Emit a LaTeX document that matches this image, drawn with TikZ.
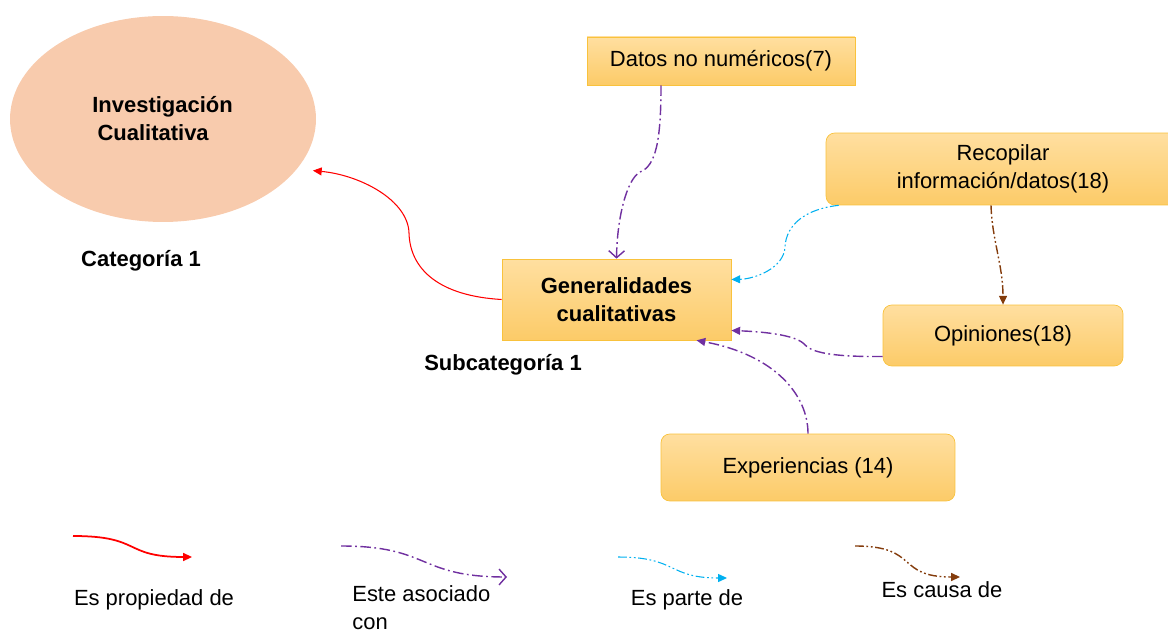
\documentclass[tikz,border=0pt]{standalone}
\usepackage{fontspec}
\setmainfont{Liberation Sans}
\usetikzlibrary{shapes.geometric,arrows.meta,calc}
\definecolor{cajaarriba}{HTML}{FFDFA0}
\definecolor{cajaabajo}{HTML}{FCCB68}
\definecolor{cajaborde}{HTML}{F9C23C}
\definecolor{elipse}{HTML}{F8CBAD}
\definecolor{propiedad}{HTML}{FF0000}
\definecolor{asociado}{HTML}{7030A0}
\definecolor{parte}{HTML}{00B0F0}
\definecolor{causa}{HTML}{843C0C}
\begin{document}
\begin{tikzpicture}[x=0.02cm,y=0.02cm]
			\tikzstyle{every node}+=[inner sep=0pt,font=\fontsize{12.5}{16}\selectfont]
			\tikzstyle{caja}=[draw=cajaborde,top color=cajaarriba,bottom color=cajaabajo,align=center]
			\tikzstyle{cajared}=[caja,rounded corners=5pt]
			\tikzstyle{negrita}=[font=\fontsize{12.5}{16}\selectfont\bfseries]
			\tikzstyle{punta}=[-{Triangle[length=5pt,width=4.5pt]}]
			\tikzstyle{espropiedad}=[draw=propiedad,line width=0.6pt,punta]
			\tikzstyle{esasociado}=[draw=asociado,line width=0.8pt,dash pattern=on 6pt off 2pt on 1pt off 2pt,punta]
			\tikzstyle{abierta}=[-{Straight Barb[length=4pt,width=9pt]}]
			\tikzstyle{esparte}=[draw=parte,line width=0.6pt,dash pattern=on 5pt off 1.5pt on 1pt off 1.5pt on 1pt off 1.5pt,punta]
			\tikzstyle{escausa}=[draw=causa,line width=0.8pt,dash pattern=on 5pt off 1.5pt on 1pt off 1.5pt on 1pt off 1.5pt,punta]
			\useasboundingbox (0,0) rectangle (1168,-634);
			\node [ellipse,fill=elipse,minimum width=6.12cm,minimum height=4.12cm,outer sep=8pt] (inv) at (163,-119) {};
			\node [negrita,align=left,anchor=west] (invtxt) at (92,-119) {Investigación\\\hspace*{3pt}Cualitativa};
			\node [negrita] (cat) at (141,-261) {Categoría 1};
			\node [caja,negrita,minimum width=4.58cm,minimum height=1.62cm] (gen) at (616.5,-299.5) {Generalidades\\cualitativas};
			\node [negrita] (subcat) at (503,-365) {Subcategoría 1};
			\node [caja,minimum width=5.36cm,minimum height=0.96cm] (datos) at (721,-61) {Datos no numéricos(7)};
			\node [cajared,minimum width=7.08cm,minimum height=1.44cm] (rec) at (1003,-169) {Recopilar\\información/datos(18)};
			\node [cajared,minimum width=4.8cm,minimum height=1.22cm] (opi) at (1003,-335.5) {Opiniones(18)};
			\node [cajared,minimum width=5.88cm,minimum height=1.34cm] (exp) at (808,-467.5) {Experiencias (14)};
			\draw [espropiedad] (gen.west) .. controls (440,-296) and (410,-270) .. (409,-233) .. controls (408,-200) and (360,-175) .. (inv.-19);
			\draw [esasociado,abierta] ($(datos.south)+(-60,0)$) .. controls (661,-140) and (656,-166) .. (640,-172) .. controls (626,-180) and (617,-220) .. (gen.north);
			\draw [esparte] ($(rec.south west)+(13,0)$) .. controls (805,-209) and (786,-225) .. (785,-247) .. controls (784,-268) and (755,-279) .. ($(gen.east)+(0,20)$);
			\draw [escausa] ($(rec.south)+(-12,0)$) .. controls (992,-240) and (1003,-265) .. (opi.north);
			\draw [esasociado] ($(opi.west)+(0,-21)$) .. controls (830,-357) and (812,-352) .. (805,-345) .. controls (798,-336) and (770,-332) .. ($(gen.east)+(0,-31)$);
			\draw [esasociado] (exp.north) .. controls (808,-395) and (775,-355) .. ($(gen.south)+(80,0)$);
			\coordinate (lr1) at (73,-536);
			\coordinate (lr2) at (192,-557);
			\coordinate (la1) at (341,-546);
			\coordinate (la2) at (507,-577);
			\coordinate (lp1) at (618,-557);
			\coordinate (lp2) at (727,-578);
			\coordinate (lc1) at (855,-546);
			\coordinate (lc2) at (960,-577);
			\draw [espropiedad,line width=1pt] (lr1) .. controls +(70,0) and +(-70,0) .. (lr2);
			\draw [esasociado,abierta] (la1) .. controls +(90,0) and +(-90,0) .. (la2);
			\draw [esparte] (lp1) .. controls +(60,0) and +(-60,0) .. (lp2);
			\draw [escausa] (lc1) .. controls +(65,0) and +(-65,0) .. (lc2);
			\node (lprop) at (154,-600) {Es propiedad de};
			\node [align=left,anchor=west,font=\fontsize{12.5}{16}\selectfont] (lasoc) at (352,-608) {Este asociado\\con};
			\node (lparte) at (687,-600) {Es parte de};
			\node (lcausa) at (942,-590) {Es causa de};
\end{tikzpicture}
\end{document}
